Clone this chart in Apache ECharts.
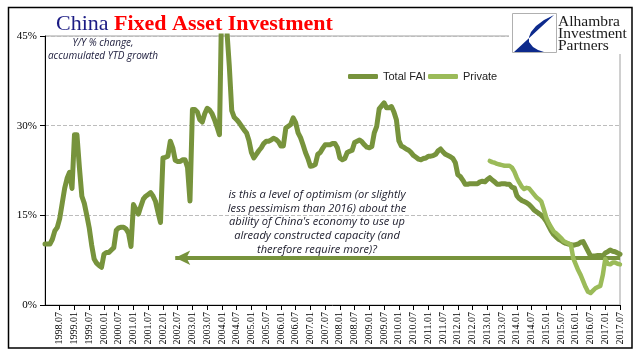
<!DOCTYPE html>
<html>
<head>
<meta charset="utf-8">
<script src="https://cdn.jsdelivr.net/npm/echarts@6/dist/echarts.min.js"></script>
<style>
html,body{margin:0;padding:0;background:#fff;}
#chart{width:641px;height:361px;}
</style>
</head>
<body>
<div id="chart"></div>
<script>
// ---- data ----
const startYear = 1998, endYear = 2017, endMonth = 7;
const categories = [];
for (let y = startYear; y <= endYear; y++) {
  for (let m = 1; m <= 12; m++) {
    if (y === endYear && m > endMonth) break;
    categories.push(y + '.' + (m < 10 ? '0' + m : m));
  }
}
const tickMonths = ['01', '07'];
const firstTickLabel = '1998.07';

// Total FAI, Y/Y % accumulated YTD, monthly from 1998.01
const totalFAI = [
  10.2,10.2,10.2,11.0,12.4,13.0,14.5,17.0,19.5,21.2,22.2,19.5,
  28.5,28.5,23.0,18.2,17.0,15.0,12.9,10.0,7.7,7.0,6.6,6.3,
  8.5,8.8,8.8,9.2,9.6,12.5,12.9,13.0,13.0,12.7,12.0,9.8,
  16.8,16.0,15.2,16.5,17.7,18.2,18.5,18.8,18.2,17.3,15.5,13.8,
  24.6,24.7,24.9,27.4,26.3,24.2,24.0,24.0,24.3,24.3,23.0,17.4,
  32.7,32.7,32.3,31.0,30.6,32.0,32.9,32.6,32.0,31.0,29.8,28.5,
  53.0,50.0,46.0,40.0,32.5,31.4,31.0,30.5,29.9,29.3,28.8,27.5,
  25.5,24.6,25.2,25.8,26.3,27.0,27.4,27.4,27.6,27.9,27.7,27.3,
  26.6,26.6,29.6,29.9,30.2,31.3,30.5,28.8,28.0,26.8,25.5,24.5,
  23.2,23.3,23.5,25.2,25.5,26.2,26.8,26.8,26.8,27.0,27.0,26.3,
  24.6,24.3,24.5,25.5,25.7,25.9,27.2,27.4,27.6,27.3,26.8,26.4,
  26.3,26.5,28.8,29.9,32.8,33.3,33.8,33.0,33.0,33.2,32.3,31.0,
  27.5,26.6,26.4,26.1,25.9,25.5,25.0,24.7,24.4,24.3,24.5,24.6,
  24.9,24.9,25.0,25.2,25.8,26.1,25.6,25.2,25.0,24.8,24.5,23.8,
  21.8,21.5,20.9,20.2,20.2,20.3,20.3,20.3,20.3,20.6,20.7,20.6,
  21.0,21.3,20.9,20.6,20.2,20.2,20.3,20.3,20.2,20.2,19.7,19.6,
  18.3,17.8,17.5,17.3,17.1,16.8,16.4,15.9,15.6,15.3,15.0,14.6,
  14.0,13.2,12.4,11.8,11.4,11.0,10.8,10.5,10.3,10.2,10.1,10.0,
  10.1,10.2,10.5,10.6,9.8,9.0,8.2,8.2,8.2,8.3,8.3,8.2,
  8.7,8.9,9.2,9.0,8.9,8.7,8.5
];

// Private FAI, starts 2013.02
const privateStart = '2013.02';
const privateFAI = [
  24.1,23.9,23.8,23.6,23.5,23.4,23.3,23.3,23.3,23.0,22.3,
  21.3,20.5,19.8,19.4,19.6,19.5,19.0,18.5,18.0,17.7,17.3,16.0,
  14.6,13.7,13.0,12.3,12.0,11.6,11.2,10.7,10.5,10.3,10.1,7.8,
  6.8,5.8,5.0,4.0,3.0,2.2,2.0,2.4,2.8,3.0,3.2,5.0,
  7.7,6.9,6.8,7.1,7.1,6.9,6.8
];

const arrowLevel = 7.9;
const arrowFrom = '2002.06';
const arrowTo = '2017.07';

// ---- chart ----
const pStartIdx = categories.indexOf(privateStart);
const privateData = privateFAI.map((v, i) => [categories[pStartIdx + i], v]);
const firstTickIdx = categories.indexOf(firstTickLabel);

const dark = '#77933C', light = '#9BBB59';
const serif = '"Liberation Serif", "Times New Roman", serif';
const showTick = (idx, val) => idx >= firstTickIdx && tickMonths.indexOf(String(val).slice(5)) >= 0;

const chart = echarts.init(document.getElementById('chart'), null, {renderer: 'canvas'});
chart.setOption({
  animation: false,
  backgroundColor: '#fff',
  title: {
    text: '{a|China }{b|Fixed Asset Investment}',
    left: 51, top: 8,
    textStyle: {
      fontWeight: 'normal',
      rich: {
        a: {fontFamily: serif, fontSize: 22, fontWeight: 'normal', color: '#1b1b84'},
        b: {fontFamily: serif, fontSize: 22, fontWeight: 'bold', color: '#ff0000'}
      }
    }
  },
  legend: [
    {data: ['Total FAI'], left: 343, top: 66, itemWidth: 30, itemHeight: 5, icon: 'roundRect',
     textStyle: {fontFamily: '"Liberation Sans", Arial, sans-serif', fontSize: 11, color: '#222'}},
    {data: ['Private'], left: 423, top: 66, itemWidth: 30, itemHeight: 5, icon: 'roundRect',
     textStyle: {fontFamily: '"Liberation Sans", Arial, sans-serif', fontSize: 11, color: '#222'}}
  ],
  grid: {left: 45, right: 21, top: 36, bottom: 56, show: true, borderColor: '#a0a0a0', borderWidth: 1},
  xAxis: {
    type: 'category',
    data: categories,
    boundaryGap: false,
    axisLine: {lineStyle: {color: '#000', width: 1}},
    axisTick: {show: true, interval: showTick, length: 5, lineStyle: {color: '#000'}},
    axisLabel: {interval: showTick, rotate: 90, margin: 7, fontFamily: serif, fontSize: 10, color: '#000'},
    splitLine: {show: false}
  },
  yAxis: {
    type: 'value',
    min: 0, max: 45, interval: 15,
    axisLine: {show: true, lineStyle: {color: '#000', width: 1}},
    axisTick: {show: true, length: 5, lineStyle: {color: '#000'}},
    axisLabel: {formatter: v => v + '%', margin: 8, fontFamily: serif, fontSize: 11, color: '#000'},
    splitLine: {show: true, lineStyle: {color: '#bdbdbd', type: 'dashed', width: 1}}
  },
  series: [
    {
      name: 'Total FAI', type: 'line', data: totalFAI, symbol: 'none', clip: true, z: 3,
      itemStyle: {color: dark},
      lineStyle: {color: dark, width: 5, cap: 'round', join: 'round'},
      markLine: {
        silent: true, symbol: ['arrow', 'none'], symbolSize: [11, 15], z: 2,
        label: {show: false},
        lineStyle: {color: dark, width: 4, type: 'solid'},
        emphasis: {disabled: true},
        data: [[{coord: [arrowFrom, arrowLevel]}, {coord: [arrowTo, arrowLevel]}]]
      }
    },
    {
      name: 'Private', type: 'line', data: privateData, symbol: 'none', clip: true, z: 4,
      itemStyle: {color: light},
      lineStyle: {color: light, width: 4.5, cap: 'round', join: 'round'}
    }
  ],
  graphic: [
    // subtitle
    {type: 'text', x: 103, y: 37, z: 10, style: {
      text: 'Y/Y % change,\naccumulated YTD growth', align: 'center', verticalAlign: 'top',
      fontFamily: '"Open Sans", sans-serif', fontStyle: 'italic', fontSize: 10, lineHeight: 13, fill: '#1a1a3a'}},
    // annotation
    {type: 'text', x: 317, y: 188, z: 10, style: {
      text: "is this a level of optimism (or slightly\nless pessimism than 2016) about the\nability of China's economy to use up\nalready constructed capacity (and\ntherefore require more)?",
      align: 'center', verticalAlign: 'top',
      fontFamily: '"Open Sans", sans-serif', fontStyle: 'italic', fontSize: 11.1, lineHeight: 13.7, fill: '#1a1a2a'}},
    // logo backdrop
    {type: 'rect', z: 20, shape: {x: 509, y: 8, width: 122, height: 46}, style: {fill: '#fff'}},
    {type: 'rect', z: 21, shape: {x: 512.5, y: 13.5, width: 44, height: 39}, style: {fill: '#fff', stroke: '#b0b0b0', lineWidth: 1}},
    {type: 'polygon', z: 22, shape: {points: [[554,15],[514,52],[544,52],[538,50],[533,47],[529,42],[529,37],[531,32],[536,26],[544,20]]}, style: {fill: '#0d2a8c'}},
    {type: 'text', z: 22, x: 558, y: 22, style: {text: 'Alhambra', verticalAlign: 'middle', fontFamily: serif, fontSize: 15.5, fill: '#1a1a1a'}},
    {type: 'text', z: 22, x: 558, y: 34, style: {text: 'Investment', verticalAlign: 'middle', fontFamily: serif, fontSize: 15.5, fill: '#1a1a1a'}},
    {type: 'text', z: 22, x: 558, y: 46, style: {text: 'Partners', verticalAlign: 'middle', fontFamily: serif, fontSize: 15.5, fill: '#1a1a1a'}},
    // outer frame
    {type: 'rect', z: 30, shape: {x: 8.5, y: 7.5, width: 623.5, height: 340.5}, style: {fill: 'none', stroke: '#000', lineWidth: 1.5}}
  ]
});
</script>
</body>
</html>
